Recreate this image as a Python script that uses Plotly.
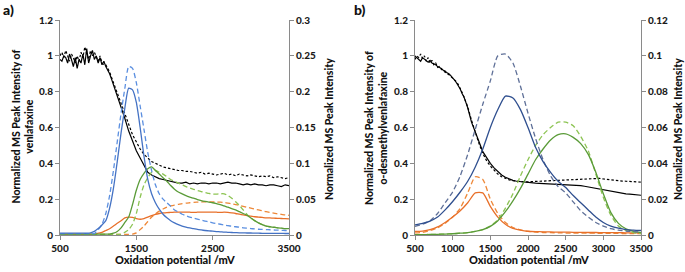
import plotly.graph_objects as go

# ---------------- Panel a) venlafaxine ----------------
xa_col = list(range(500, 3501, 50))
xa_blk = list(range(500, 1200, 25)) + list(range(1200, 3501, 50))

a_black_solid = [0.98, 0.97, 1.00, 0.99, 0.96, 1.01, 0.98, 0.94, 0.99, 0.93, 0.98, 0.96, 1.01, 0.95,
                 1.04, 0.96, 1.00, 1.03, 0.98, 1.00, 0.96, 0.99, 0.95, 0.97, 0.94, 0.92, 0.90, 0.87,
                 0.84, 0.78, 0.72, 0.65, 0.58, 0.52, 0.47, 0.43, 0.39, 0.35, 0.335, 0.325, 0.315, 0.31,
                 0.305, 0.30, 0.295, 0.29, 0.29, 0.295, 0.285, 0.29, 0.285, 0.29, 0.29, 0.285, 0.29,
                 0.29, 0.285, 0.29, 0.295, 0.29, 0.29, 0.285, 0.28, 0.285, 0.28, 0.285, 0.28, 0.28,
                 0.275, 0.28, 0.28, 0.275, 0.27, 0.28, 0.275]
a_black_dash = [1.00, 1.02, 0.99, 1.03, 1.00, 0.97, 1.01, 0.99, 0.96, 1.00, 0.97, 1.02, 0.99, 1.05,
                1.01, 0.98, 1.03, 1.00, 1.02, 0.99, 0.97, 1.00, 0.96, 0.95, 0.95, 0.93, 0.91, 0.88,
                0.85, 0.80, 0.73, 0.67, 0.61, 0.56, 0.52, 0.48, 0.45, 0.43, 0.41, 0.40, 0.39, 0.38,
                0.375, 0.37, 0.365, 0.36, 0.36, 0.355, 0.355, 0.35, 0.345, 0.35, 0.34, 0.345, 0.34,
                0.335, 0.34, 0.345, 0.335, 0.34, 0.33, 0.34, 0.335, 0.33, 0.335, 0.33, 0.325, 0.33,
                0.325, 0.33, 0.32, 0.325, 0.32, 0.315, 0.32, 0.315, 0.32, 0.33][:len(xa_blk)]

a_blue_solid = [0.0025] * 8 + [0.003, 0.005, 0.009, 0.014, 0.02, 0.0375, 0.065, 0.1025, 0.1425, 0.1775,
                0.205, 0.2025, 0.185, 0.15, 0.11, 0.0775, 0.0575, 0.045, 0.036, 0.029, 0.024, 0.02,
                0.017, 0.0145, 0.0125, 0.011, 0.0098, 0.0088, 0.0078, 0.007, 0.0063, 0.0058, 0.0053,
                0.0048, 0.0045, 0.004, 0.0038, 0.0035, 0.0033, 0.003, 0.003, 0.0028, 0.0028, 0.0025,
                0.0025, 0.0024, 0.0024, 0.0023, 0.0023, 0.0022, 0.0022, 0.0021, 0.0021]
a_blue_dash = [0.002] * 10 + [0.0075, 0.015, 0.03, 0.055, 0.09, 0.13, 0.17, 0.205, 0.235, 0.2325,
               0.2125, 0.18, 0.1475, 0.115, 0.09, 0.07, 0.0575, 0.05, 0.045, 0.04, 0.035, 0.032,
               0.029, 0.027, 0.025, 0.0235, 0.022, 0.0208, 0.0195, 0.0183, 0.017, 0.016, 0.015, 0.014,
               0.013, 0.0123, 0.0115, 0.0108, 0.01, 0.0095, 0.009, 0.0085, 0.008, 0.0078, 0.0075,
               0.0073, 0.007, 0.0068, 0.0065, 0.0063, 0.006]
a_green_solid = [0.0013] * 14 + [0.0025, 0.005, 0.01, 0.0175, 0.025, 0.0425, 0.0625, 0.0775, 0.086,
                 0.0925, 0.095, 0.09, 0.085, 0.08, 0.075, 0.069, 0.064, 0.06, 0.0575, 0.055, 0.053,
                 0.0513, 0.0495, 0.048, 0.0468, 0.0458, 0.045, 0.0438, 0.0425, 0.0405, 0.0388, 0.0368,
                 0.035, 0.0325, 0.03, 0.0275, 0.0238, 0.02, 0.017, 0.0145, 0.0125, 0.0115, 0.0108, 0.01,
                 0.0095, 0.009, 0.0088]
a_green_dash = [0.0008] * 17 + [0.0038, 0.0075, 0.015, 0.03, 0.0525, 0.07, 0.08, 0.0875, 0.09, 0.0875,
                0.085, 0.0813, 0.0775, 0.075, 0.0725, 0.07, 0.0675, 0.0655, 0.0638, 0.062, 0.0605,
                0.0593, 0.058, 0.057, 0.057, 0.0575, 0.0575, 0.055, 0.0513, 0.0463, 0.0413, 0.035,
                0.0288, 0.0238, 0.02, 0.017, 0.0145, 0.0125, 0.0115, 0.0108, 0.01, 0.0095, 0.009, 0.0088]
a_orange_solid = [0.0013] * 10 + [0.0025, 0.0038, 0.0063, 0.0088, 0.0125, 0.0163, 0.02, 0.0238, 0.025,
                  0.0245, 0.023, 0.022, 0.023, 0.025, 0.027, 0.0288, 0.03, 0.0308, 0.0313, 0.0315,
                  0.0318, 0.032, 0.0318, 0.032, 0.0318, 0.0315, 0.0318, 0.032, 0.0318, 0.0318, 0.032,
                  0.0318, 0.0315, 0.0318, 0.0315, 0.0308, 0.03, 0.029, 0.028, 0.027, 0.0263, 0.0255,
                  0.025, 0.0245, 0.024, 0.0238, 0.0235, 0.0233, 0.023, 0.0228, 0.0225]
a_orange_dash = [0.0008] * 19 + [0.0013, 0.003, 0.0075, 0.0125, 0.0188, 0.025, 0.0295, 0.0333, 0.0363,
                 0.0388, 0.0405, 0.0418, 0.0428, 0.0438, 0.0445, 0.045, 0.0455, 0.0458, 0.046, 0.0463,
                 0.0463, 0.0463, 0.046, 0.0458, 0.0453, 0.0445, 0.0435, 0.0425, 0.0413, 0.04, 0.0388,
                 0.0375, 0.0363, 0.035, 0.0338, 0.0325, 0.0315, 0.0305, 0.0295, 0.0288, 0.028, 0.0275]

# ---------------- Panel b) o-desmethylvenlafaxine ----------------
xb_col = list(range(500, 3501, 100))
xb_blk = list(range(500, 1200, 25)) + list(range(1200, 3501, 50))

b_black_solid = [1.00, 0.99, 0.98, 0.97, 0.99, 0.98, 0.975, 0.965, 0.975, 0.96, 0.955, 0.95, 0.94,
                 0.935, 0.93, 0.92, 0.915, 0.905, 0.90, 0.89, 0.88, 0.865, 0.85, 0.835, 0.815, 0.79,
                 0.77, 0.74, 0.71, 0.63, 0.57, 0.52, 0.465, 0.43, 0.40, 0.375, 0.352, 0.335, 0.322,
                 0.312, 0.305, 0.30, 0.297, 0.295, 0.292, 0.29, 0.289, 0.288, 0.287, 0.286, 0.285,
                 0.285, 0.284, 0.283, 0.283, 0.282, 0.281, 0.279, 0.276, 0.272, 0.268, 0.264, 0.26,
                 0.255, 0.25, 0.246, 0.242, 0.239, 0.236, 0.233, 0.23, 0.228, 0.226, 0.224, 0.222]
b_black_dash = [0.98, 1.00, 0.99, 1.01, 0.985, 1.00, 0.97, 0.99, 0.96, 0.975, 0.95, 0.96, 0.935,
                0.94, 0.925, 0.915, 0.91, 0.90, 0.895, 0.885, 0.875, 0.87, 0.855, 0.84, 0.82, 0.795,
                0.77, 0.745, 0.715, 0.64, 0.57, 0.51, 0.455, 0.415, 0.385, 0.36, 0.34, 0.325, 0.315,
                0.308, 0.303, 0.30, 0.298, 0.297, 0.297, 0.298, 0.30, 0.30, 0.302, 0.303, 0.304,
                0.305, 0.305, 0.305, 0.306, 0.307, 0.308, 0.31, 0.312, 0.314, 0.316, 0.317, 0.317,
                0.316, 0.313, 0.31, 0.307, 0.305, 0.303, 0.301, 0.30, 0.298, 0.297, 0.296, 0.295]

b_blue_solid = [0.0057, 0.0065, 0.0078, 0.01, 0.014, 0.0187, 0.024, 0.03, 0.038, 0.048, 0.06, 0.07,
                0.0775, 0.0765, 0.07, 0.06, 0.049, 0.041, 0.035, 0.03, 0.0265, 0.022, 0.018, 0.014,
                0.01, 0.007, 0.005, 0.0038, 0.003, 0.0027, 0.0025]
b_blue_dash = [0.0048, 0.006, 0.008, 0.012, 0.018, 0.024, 0.033, 0.045, 0.059, 0.073, 0.086, 0.1,
               0.101, 0.096, 0.083, 0.068, 0.054, 0.042, 0.033, 0.027, 0.0235, 0.0185, 0.0135, 0.01,
               0.007, 0.005, 0.0035, 0.0027, 0.0022, 0.0019, 0.0017]
b_orange_solid = [0.002, 0.0022, 0.003, 0.0045, 0.007, 0.01, 0.0135, 0.018, 0.0235, 0.0235, 0.016,
                  0.01, 0.006, 0.0037, 0.0027, 0.0021, 0.0019, 0.0018, 0.0017, 0.0016, 0.0016, 0.0015,
                  0.0015, 0.0014, 0.0014, 0.0013, 0.0013, 0.0013, 0.0012, 0.0012, 0.0012]
b_orange_dash = [0.0012, 0.0015, 0.0025, 0.004, 0.0065, 0.01, 0.015, 0.0235, 0.0325, 0.031, 0.02,
                 0.012, 0.007, 0.0042, 0.0028, 0.002, 0.0016, 0.0014, 0.0013, 0.0012, 0.0011, 0.0011,
                 0.001, 0.001, 0.001, 0.0009, 0.0009, 0.0009, 0.0008, 0.0008, 0.0008]
b_green_solid = [0.0002, 0.0002, 0.0003, 0.0004, 0.0005, 0.0007, 0.001, 0.0013, 0.002, 0.003, 0.0048,
                 0.008, 0.013, 0.019, 0.026, 0.034, 0.042, 0.048, 0.053, 0.056, 0.0565, 0.0545, 0.051,
                 0.045, 0.035, 0.023, 0.0125, 0.0065, 0.0035, 0.002, 0.0013]
b_green_dash = [0.0002, 0.0002, 0.0003, 0.0004, 0.0005, 0.0007, 0.001, 0.0013, 0.002, 0.003, 0.005,
                0.0085, 0.015, 0.023, 0.033, 0.042, 0.05, 0.056, 0.06, 0.063, 0.063, 0.061, 0.055,
                0.047, 0.034, 0.021, 0.011, 0.005, 0.0025, 0.0013, 0.0008]

a_xticks = [500, 1500, 2500, 3500]
b_xticks = [500, 1000, 1500, 2000, 2500, 3000, 3500]
left_ticks = [0, 0.2, 0.4, 0.6, 0.8, 1, 1.2]
a_right_ticks = [0, 0.05, 0.1, 0.15, 0.2, 0.25, 0.3]
b_right_ticks = [0, 0.02, 0.04, 0.06, 0.08, 0.1, 0.12]

# ---------------- styles ----------------
BLUE_A, BLUE_A_D = "#4472C4", "#5B8FE0"
BLUE_B, BLUE_B_D = "#2F4F8F", "#5F7098"
ORANGE, ORANGE_D = "#E8702A", "#EE8838"
GREEN, GREEN_D = "#5A9B38", "#8DC453"
DASH = "5px,3px"
KDASH = "2.5px,2px"

fig = go.Figure()


def add(x, y, color, dash, xa, ya, shape="spline", width=1.3):
    fig.add_trace(go.Scatter(x=x, y=y, mode="lines", xaxis=xa, yaxis=ya,
                             line=dict(color=color, dash=dash, width=width, shape=shape,
                                       smoothing=0.6 if shape == "spline" else None),
                             hoverinfo="skip", showlegend=False))


# panel a
add(xa_col, a_orange_dash, ORANGE_D, DASH, "x", "y2")
add(xa_col, a_orange_solid, ORANGE, "solid", "x", "y2")
add(xa_col, a_green_dash, GREEN_D, DASH, "x", "y2")
add(xa_col, a_green_solid, GREEN, "solid", "x", "y2")
add(xa_col, a_blue_dash, BLUE_A_D, DASH, "x", "y2")
add(xa_col, a_blue_solid, BLUE_A, "solid", "x", "y2")
add(xa_blk, a_black_dash, "#000000", KDASH, "x", "y", shape="linear", width=1.2)
add(xa_blk, a_black_solid, "#000000", "solid", "x", "y", shape="linear", width=1.2)
# panel b
add(xb_col, b_orange_dash, ORANGE_D, DASH, "x2", "y4")
add(xb_col, b_orange_solid, ORANGE, "solid", "x2", "y4")
add(xb_col, b_green_dash, GREEN_D, DASH, "x2", "y4")
add(xb_col, b_green_solid, GREEN, "solid", "x2", "y4")
add(xb_col, b_blue_dash, BLUE_B_D, DASH, "x2", "y4")
add(xb_col, b_blue_solid, BLUE_B, "solid", "x2", "y4")
add(xb_blk, b_black_dash, "#000000", KDASH, "x2", "y3", shape="linear", width=1.2)
add(xb_blk, b_black_solid, "#000000", "solid", "x2", "y3", shape="linear", width=1.2)

FONT = "Lato"
tickfont = dict(family=FONT, size=10, color="#1a1a1a", weight=900)
AX = dict(showgrid=False, zeroline=False, showline=True, linecolor="#8a8a8a", linewidth=1,
          ticks="outside", ticklen=4, tickcolor="#8a8a8a", tickfont=tickfont)

W, H = 685, 272
ML, MR, MT, MB = 60, 44, 20, 37
pw = W - ML - MR
ph = H - MT - MB


def px(x):
    return (x - ML) / pw


def py(y):
    return (H - MB - y) / ph


fig.update_layout(
    width=W, height=H, margin=dict(l=ML, r=MR, t=MT, b=MB),
    paper_bgcolor="white", plot_bgcolor="white",
    xaxis=dict(domain=[0, px(289)], range=[500, 3500], tickvals=a_xticks, anchor="y", **AX),
    yaxis=dict(range=[0, 1.2], tickvals=left_ticks, ticktext=[f"{v:g}" for v in left_ticks],
               anchor="x", **AX),
    yaxis2=dict(range=[0, 0.3], tickvals=a_right_ticks, ticktext=[f"{v:g}" for v in a_right_ticks],
                overlaying="y", side="right", anchor="x", **AX),
    xaxis2=dict(domain=[px(415), 1], range=[500, 3500], tickvals=b_xticks, anchor="y3", **AX),
    yaxis3=dict(range=[0, 1.2], tickvals=left_ticks, ticktext=[f"{v:g}" for v in left_ticks],
                anchor="x2", **AX),
    yaxis4=dict(range=[0, 0.12], tickvals=b_right_ticks, ticktext=[f"{v:g}" for v in b_right_ticks],
                overlaying="y3", side="right", anchor="x2", **AX),
)

tfont = dict(family=FONT, size=10.5, color="#111111", weight=900)
ann = [
    dict(x=px(1), y=py(9), text="a)", xanchor="left", yanchor="middle",
         font=dict(family=FONT, size=14, color="#111111", weight=900)),
    dict(x=px(352), y=py(9), text="b)", xanchor="left", yanchor="middle",
         font=dict(family=FONT, size=14, color="#111111", weight=900)),
    dict(x=px(22.5), y=py(127), text="Normalized MS Peak Intensity of<br>venlafaxine",
         textangle=-90, font=tfont),
    dict(x=px(329), y=py(129), text="Normalized MS Peak Intensity", textangle=-90, font=tfont),
    dict(x=px(376), y=py(128), text="Normalized MS Peak Intensity of<br>o-desmethylvenlafaxine",
         textangle=-90, font=tfont),
    dict(x=px(678), y=py(129), text="Normalized MS Peak Intensity", textangle=-90, font=tfont),
    dict(x=px(175), y=py(259), text="Oxidation potential /mV",
         font=dict(family=FONT, size=11, color="#111111", weight=900)),
    dict(x=px(529), y=py(259), text="Oxidation potential /mV",
         font=dict(family=FONT, size=11, color="#111111", weight=900)),
]
for a in ann:
    a.update(xref="paper", yref="paper", showarrow=False)
    a.setdefault("xanchor", "center")
    a.setdefault("yanchor", "middle")
fig.update_layout(annotations=ann)

fig.write_html("out.html", config={"displayModeBar": False, "staticPlot": True},
               post_script="document.body.style.margin='0';document.body.style.overflow='hidden';")
